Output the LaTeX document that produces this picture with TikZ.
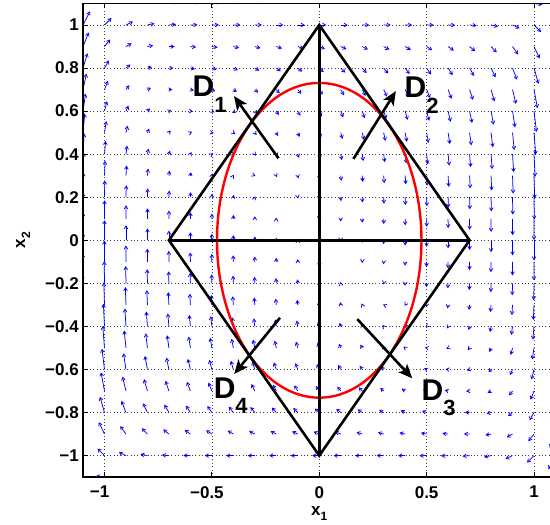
\documentclass[tikz,border=0pt]{standalone}
\usepackage{fontspec}
\setmainfont{Liberation Sans}
\usetikzlibrary{arrows.meta, positioning}

\newcommand{\sbd}[1]{\raisebox{-15.5pt}{\fontsize{22}{22}\selectfont#1}}
\newcommand{\sbx}[1]{\raisebox{-5pt}{\fontsize{12}{12}\selectfont#1}}

\begin{document}
\begin{tikzpicture}[x=214.75pt, y=215.3pt, font=\bfseries\fontsize{17}{17}\selectfont,
        vec/.style={blue, line width=0.75pt, -{Straight Barb[length=3pt,width=3.6pt]}},
        grd/.style={black!75, line width=0.6pt, dash pattern=on 0.8pt off 2.6pt},
        frm/.style={black, line width=1.8pt},
        tck/.style={black, line width=0.9pt},
        bnd/.style={black, line width=2.6pt},
        lvl/.style={red, line width=2.4pt},
        dir/.style={black, line width=2.6pt, -{Stealth[length=14pt,width=12pt,inset=3.5pt]}},
        dlab/.style={inner sep=0pt, anchor=base west, font=\bfseries\fontsize{30}{30}\selectfont},
        tlab/.style={inner sep=0pt}]
        \useasboundingbox (-1.4866,-1.3177) rectangle (1.0745,1.1161);

        % grid
        \foreach \gx in {-1,-0.5,0,0.5,1}
            \draw[grd] (\gx,-1.1) -- (\gx,1.1);
        \foreach \gy in {-1,-0.8,-0.6,-0.4,-0.2,0,0.2,0.4,0.6,0.8,1}
            \draw[grd] (-1.1,\gy) -- (1.0745,\gy);

        % vector field
        \begin{scope}
            \clip (-1.1,-1.1) rectangle (1.0745,1.1);
            \foreach \i in {-11,...,11}
                \foreach \j in {-11,...,11} {
                    \pgfmathsetmacro\px{\i/10}
                    \pgfmathsetmacro\py{\j/10}
                    \pgfmathsetmacro\fa{7*\py*abs(\py)}
                    \pgfmathsetmacro\fb{-13*\px*(1-\py*\py)-7*\px*\px*\px*\px*\px*\px*\px-14*\py*(1-\py*\py)}
                    \pgfmathsetmacro\fl{veclen(\fa,\fb)}
                    \ifdim\fl pt>0.4pt
                        \draw[vec] (\px,\py) -- ++(\fa pt,\fb pt);
                    \fi
                }
        \end{scope}

        % axes
        \draw[frm] (1.0745,1.1) -- (-1.1,1.1) -- (-1.1,-1.1) -- (1.0745,-1.1);
        \foreach \gx/\lab [count=\k] in {-1/\llap{−}1,-0.5/\llap{−}0.5,0/0,0.5/0.5,1/1} {
            \draw[tck] (\gx,-1.1) -- ++(0,0.022);
            \draw[tck] (\gx,1.1) -- ++(0,-0.022);
            \node[tlab, anchor=north] (xt\k) at (\gx,-1.141) {\lab};
        }
        \foreach \gy/\lab [count=\k] in {-1/−1,-0.8/−0.8,-0.6/−0.6,-0.4/−0.4,-0.2/−0.2,0/0,0.2/0.2,0.4/0.4,0.6/0.6,0.8/0.8,1/1} {
            \draw[tck] (-1.1,\gy) -- ++(0.022,0);
            \node[tlab, anchor=east] (yt\k) at (-1.1188,\gy) {\lab};
        }
        \node[tlab, anchor=base] (xlab) at (0,-1.278) {x\sbx{1}};
        \node[tlab, anchor=base, rotate=90] (ylab) at (-1.37,0) {x\sbx{2}};

        % level curve and faces
        \draw[lvl] (0,0) ellipse [x radius=0.476, y radius=0.731];
        \coordinate (top) at (0,1);
        \coordinate (rgt) at (0.7,0);
        \coordinate (bot) at (0,-1);
        \coordinate (lft) at (-0.7,0);
        \draw[bnd] (top) -- (rgt) -- (bot) -- (lft) -- cycle;
        \draw[bnd] (top) -- (bot) (lft) -- (rgt);

        % normals
        \coordinate (n1a) at (-0.19,0.381);
        \coordinate (n1b) at (-0.397,0.670);
        \coordinate (n2a) at (0.159,0.378);
        \coordinate (n2b) at (0.357,0.693);
        \coordinate (n3a) at (0.177,-0.366);
        \coordinate (n3b) at (0.433,-0.641);
        \coordinate (n4a) at (-0.183,-0.360);
        \coordinate (n4b) at (-0.396,-0.621);
        \path[dir]
        (n1a) edge (n1b)
        (n2a) edge (n2b)
        (n3a) edge (n3b)
        (n4a) edge (n4b);

        \node[dlab] (d1) at (-0.59,0.666) {D\sbd{1}};
        \node[dlab] (d2) at (0.397,0.661) {D\sbd{2}};
        \node[dlab] (d3) at (0.476,-0.742) {D\sbd{3}};
        \node[dlab] (d4) at (-0.492,-0.733) {D\sbd{4}};
    \end{tikzpicture}
\end{document}
